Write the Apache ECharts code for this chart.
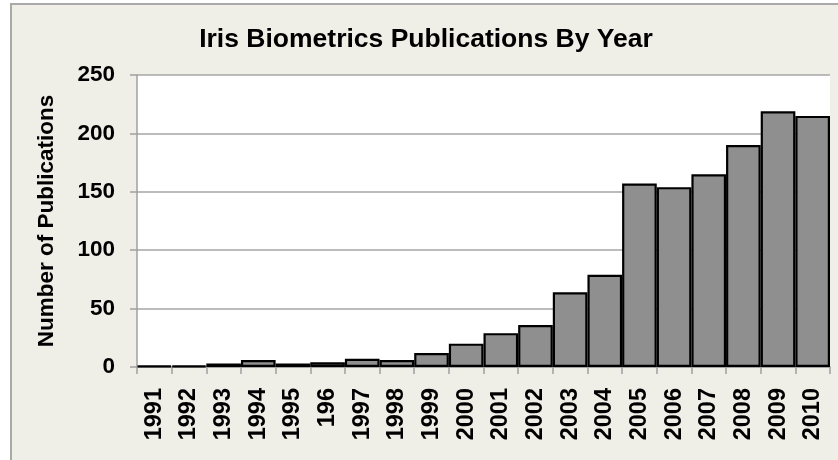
<!DOCTYPE html>
<html>
<head>
<meta charset="utf-8">
<script src="https://cdn.jsdelivr.net/npm/echarts@6/dist/echarts.min.js"></script>
<style>
  html, body { margin: 0; padding: 0; background: #ffffff; }
  #frame { position: absolute; left: 10px; top: 3px; width: 840px; height: 470px;
           background: #EFEEE7; border-left: 2px solid #A9A9A9; border-top: 2px solid #A9A9A9; }
  #chart { position: absolute; left: 0; top: 0; width: 838px; height: 460px; }
</style>
</head>
<body>
<div id="frame"></div>
<div id="chart"></div>
<script>
const titleText = 'Iris Biometrics Publications By Year';
const yAxisTitle = 'Number of Publications';
const years = ['1991','1992','1993','1994','1995','196','1997','1998','1999','2000',
               '2001','2002','2003','2004','2005','2006','2007','2008','2009','2010'];
const publications = [1, 1, 3, 6, 3, 4, 7, 6, 12, 20, 29, 36, 64, 79, 157, 154, 165, 190, 219, 215];
const yTicks = [0, 50, 100, 150, 200, 250];

const FONT = "'Liberation Sans', Arial, Helvetica, sans-serif";
const chart = echarts.init(document.getElementById('chart'), null, { renderer: 'canvas' });
chart.setOption({
  backgroundColor: 'transparent',
  animation: false,
  title: {
    text: titleText,
    left: 421,
    textAlign: 'center',
    top: 21,
    textStyle: { fontFamily: FONT, fontWeight: 'bold', fontSize: 26.5, color: '#000' }
  },
  grid: { left: 137, right: 8, top: 75, bottom: 93, show: true, backgroundColor: '#ffffff', borderWidth: 0 },
  xAxis: {
    type: 'category',
    data: years,
    axisLine: { lineStyle: { color: '#A0A0A0', width: 1.5 } },
    axisTick: { show: true, length: 7, lineStyle: { color: '#A0A0A0', width: 1.5 } },
    axisLabel: { rotate: 90, margin: 21, interval: 0, color: '#000',
                 fontFamily: FONT, fontWeight: 'bold', fontSize: 23.5 }
  },
  yAxis: {
    type: 'value',
    min: yTicks[0], max: yTicks[yTicks.length - 1], interval: 50,
    name: yAxisTitle,
    nameLocation: 'middle',
    nameGap: 79,
    nameRotate: 90,
    nameTextStyle: { fontFamily: FONT, fontWeight: 'bold', fontSize: 22.5, color: '#000' },
    axisLine: { show: true, lineStyle: { color: '#A0A0A0', width: 1.5 } },
    axisTick: { show: true, length: 7, lineStyle: { color: '#A0A0A0', width: 1.5 } },
    splitLine: { show: true, lineStyle: { color: '#A6A6A6', width: 1.5 } },
    axisLabel: { margin: 22, color: '#000', fontFamily: FONT, fontWeight: 'bold', fontSize: 22.5 }
  },
  series: [{
    type: 'bar',
    data: publications,
    barCategoryGap: '0%',
    itemStyle: { color: '#8F8F8F', borderColor: '#000000', borderWidth: 2.2 }
  }]
});
</script>
</body>
</html>
